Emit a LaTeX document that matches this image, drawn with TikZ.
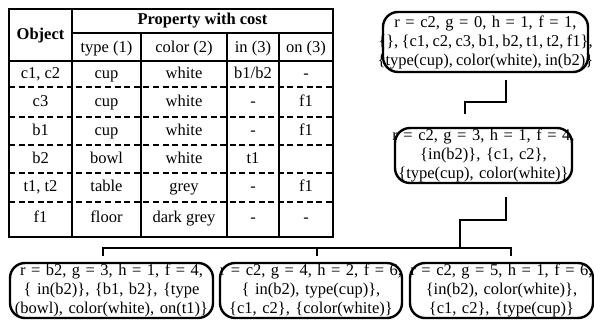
\documentclass[tikz,border=0pt]{standalone}
\usepackage{fontspec}
\setmainfont{Liberation Serif}
\usetikzlibrary{positioning}

\tikzset{every picture/.style={line width=0.75pt}}
\tikzset{
	cell/.style={inner sep=0pt, text height=11.5pt, text depth=4pt, font=\fontsize{16.5}{19}\selectfont},
	headcell/.style={cell, font=\fontsize{16.5}{19}\selectfont\bfseries},
	tabline/.style={line width=2.2pt},
	colline/.style={line width=2pt},
	rowsep/.style={line width=2pt, dash pattern={on 6pt off 3.6pt}},
	state/.style={draw, line width=2.4pt, rounded corners=15pt, inner xsep=0pt, inner ysep=0pt,
		text width=#1, minimum height=55pt, align=center, font=\fontsize{16.5}{19}\selectfont},
	link/.style={line width=2.4pt}
}
\newcommand{\sline}[1]{\makebox[\hsize]{#1}}
\newcommand{\tightline}[1]{\makebox[\hsize]{\spaceskip=3.3pt\relax #1}}

\begin{document}
\begin{tikzpicture}[x=1pt,y=1pt,yscale=-1]
	\useasboundingbox (0,0) rectangle (594,323);

	%Shape: Table frame
	\draw [tabline] (9,9) rectangle (333,237) ;
	%Straight Lines (header)
	\draw [colline] (72,33) -- (333,33) ;
	\draw [tabline] (9,61) -- (333,61) ;
	%Straight Lines (columns)
	\draw [colline] (72,9) -- (72,237) ;
	\draw [colline] (141,33) -- (141,237) ;
	\draw [colline] (227,33) -- (227,237) ;
	\draw [colline] (279,33) -- (279,237) ;
	%Straight Lines (rows)
	\draw [rowsep] (9,87) -- (333,87) ;
	\draw [rowsep] (9,117) -- (333,117) ;
	\draw [rowsep] (9,145) -- (333,145) ;
	\draw [rowsep] (9,173) -- (333,173) ;
	\draw [rowsep] (9,202) -- (333,202) ;

	% Text Node
	\node [headcell] (object) at (40.5,36) {Object};
	\node [headcell] (property) at (202.5,21) {Property with cost};
	\node [cell] (htype) at (106.5,48.5) {type (1)};
	\node [cell] (hcolor) at (184,48.5) {color (2)};
	\node [cell] (hin) at (253,48.5) {in (3)};
	\node [cell] (hon) at (306,48.5) {on (3)};
	% Text Node
	\node [cell] (c12o) at (40.5,75) {c1, c2};
	\node [cell] (c12t) at (106.5,75) {cup};
	\node [cell] (c12c) at (184,75) {white};
	\node [cell] (c12i) at (253,75) {b1/b2};
	\node [cell] (c12n) at (306,75) {-};
	% Text Node
	\node [cell] (c3o) at (40.5,103) {c3};
	\node [cell] (c3t) at (106.5,103) {cup};
	\node [cell] (c3c) at (184,103) {white};
	\node [cell] (c3i) at (253,103) {-};
	\node [cell] (c3n) at (306,103) {f1};
	% Text Node
	\node [cell] (b1o) at (40.5,132) {b1};
	\node [cell] (b1t) at (106.5,132) {cup};
	\node [cell] (b1c) at (184,132) {white};
	\node [cell] (b1i) at (253,132) {-};
	\node [cell] (b1n) at (306,132) {f1};
	% Text Node
	\node [cell] (b2o) at (40.5,159.5) {b2};
	\node [cell] (b2t) at (106.5,159.5) {bowl};
	\node [cell] (b2c) at (184,159.5) {white};
	\node [cell] (b2i) at (253,159.5) {t1};
	% Text Node
	\node [cell] (t12o) at (40.5,188) {t1, t2};
	\node [cell] (t12t) at (106.5,188) {table};
	\node [cell] (t12c) at (184,188) {grey};
	\node [cell] (t12i) at (253,188) {-};
	\node [cell] (t12n) at (306,188) {f1};
	% Text Node
	\node [cell] (f1o) at (40.5,218.5) {f1};
	\node [cell] (f1t) at (106.5,218.5) {floor};
	\node [cell] (f1c) at (184,218.5) {dark grey};
	\node [cell] (f1i) at (253,218.5) {-};
	\node [cell] (f1n) at (306,218.5) {-};

	%Shape: Rounded Rect (search states)
	\node [state=205pt, minimum height=60pt] (root) at (485.5,42)
		{\sline{r = c2, g = 0, h = 1, f = 1,}\\ \tightline{\{\}, \{c1, c2, c3, b1, b2, t1, t2, f1\},}\\ \tightline{\{type(cup), color(white), in(b2)\}}};
	\node [state=177pt] (mid) at (483.5,155.5)
		{\sline{r = c2, g = 3, h = 1, f = 4,}\\ \sline{\{in(b2)\}, \{c1, c2\},}\\ \sline{\{type(cup), color(white)\}}};
	\node [state=203pt] (left) at (111.5,290.5)
		{\sline{r = b2, g = 3, h = 1, f = 4,}\\ \sline{\{ in(b2)\}, \{b1, b2\}, \{type}\\ \sline{(bowl), color(white), on(t1)\}}};
	\node [state=182pt] (center) at (311,290.5)
		{\sline{r = c2, g = 4, h = 2, f = 6,}\\ \sline{\{ in(b2), type(cup)\},}\\ \sline{\{c1, c2\}, \{color(white)\}}};
	\node [state=183pt] (right) at (501.5,290.5)
		{\sline{r = c2, g = 5, h = 1, f = 6,}\\ \sline{\{in(b2), color(white)\},}\\ \sline{\{c1, c2\}, \{type(cup)\}}};

	%Straight Lines (root to mid)
	\coordinate (rootstub) at (506,80);
	\coordinate (rootbend) at (465,102);
	\coordinate (midstub) at (465,114);
	\draw [link] (rootstub) |- (rootbend) -- (midstub) ;
	%Straight Lines (mid to children)
	\coordinate (midout) at (506,197);
	\coordinate (midbend) at (460,220);
	\coordinate (busjoin) at (460,248);
	\coordinate (busright) at (511,248);
	\coordinate (buscenter) at (317,248);
	\coordinate (leftstub) at (103,256);
	\coordinate (centerstub) at (317,256);
	\coordinate (rightstub) at (511,256);
	\draw [link] (midout) |- (midbend) -- (busjoin) ;
	\draw [link] (leftstub) |- (busright) -- (rightstub) ;
	\draw [link] (buscenter) -- (centerstub) ;

\end{tikzpicture}
\end{document}
